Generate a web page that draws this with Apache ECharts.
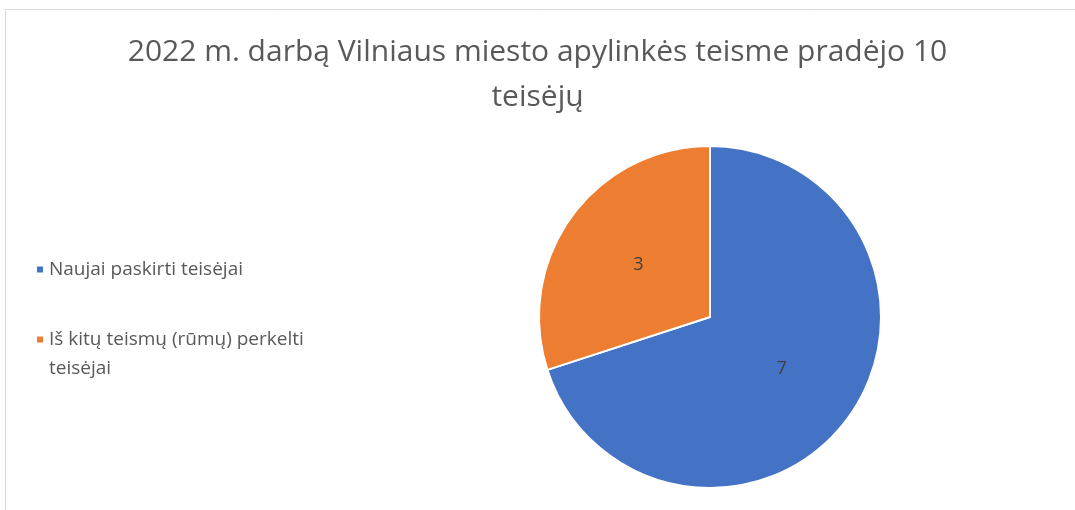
<!DOCTYPE html>
<html>
<head>
<meta charset="utf-8">
<script src="https://cdn.jsdelivr.net/npm/echarts@6/dist/echarts.min.js"></script>
<style>
  html, body { margin: 0; padding: 0; background: #fff; }
  #con { width: 1075px; height: 510px; }
</style>
</head>
<body>
<div id="con"></div>
<script>
var titleText = '2022 m. darbą Vilniaus miesto apylinkės teisme pradėjo 10\nteisėjų';
var categories = ['Naujai paskirti teisėjai', 'Iš kitų teismų (rūmų) perkelti\nteisėjai'];
var values = [7, 3];
var colors = ['#4472c4', '#ed7d31'];

var myChart = echarts.init(document.getElementById('con'));

var pieData = [];
for (var i = 0; i < categories.length; i++) {
    pieData.push({ name: categories[i], value: values[i], itemStyle: { color: colors[i] } });
}

var option = {
    animation: false,
    textStyle: { fontFamily: 'Open Sans' },
    graphic: [{
        type: 'rect',
        shape: { x: 5.5, y: 9.5, width: 1100, height: 600 },
        style: { fill: 'none', stroke: '#d9d9d9', lineWidth: 1 },
        silent: true
    }],
    title: {
        text: titleText,
        left: 'center',
        top: 25,
        textStyle: {
            fontFamily: 'Open Sans',
            fontSize: 30,
            fontWeight: 'normal',
            color: '#595959',
            lineHeight: 45
        }
    },
    legend: {
        orient: 'vertical',
        left: 30,
        top: 250,
        itemWidth: 8,
        itemHeight: 8,
        itemGap: 12,
        icon: 'rect',
        textStyle: {
            fontFamily: 'Open Sans',
            fontSize: 19,
            color: '#595959',
            lineHeight: 29,
            rich: {}
        },
        data: [
            { name: categories[0] },
            { name: categories[1], textStyle: { padding: [29, 0, 0, 0] } }
        ]
    },
    series: [{
        type: 'pie',
        center: [710, 317],
        radius: [0, 171],
        startAngle: 90,
        clockwise: true,
        label: {
            show: true,
            position: 'inside',
            formatter: '{c}',
            fontFamily: 'Open Sans',
            fontSize: 18,
            color: '#404040'
        },
        labelLine: { show: false },
        itemStyle: { borderColor: '#fff', borderWidth: 2 },
        emphasis: { disabled: true },
        data: pieData
    }]
};

myChart.setOption(option);
window.onresize = myChart.resize;
</script>
</body>
</html>
